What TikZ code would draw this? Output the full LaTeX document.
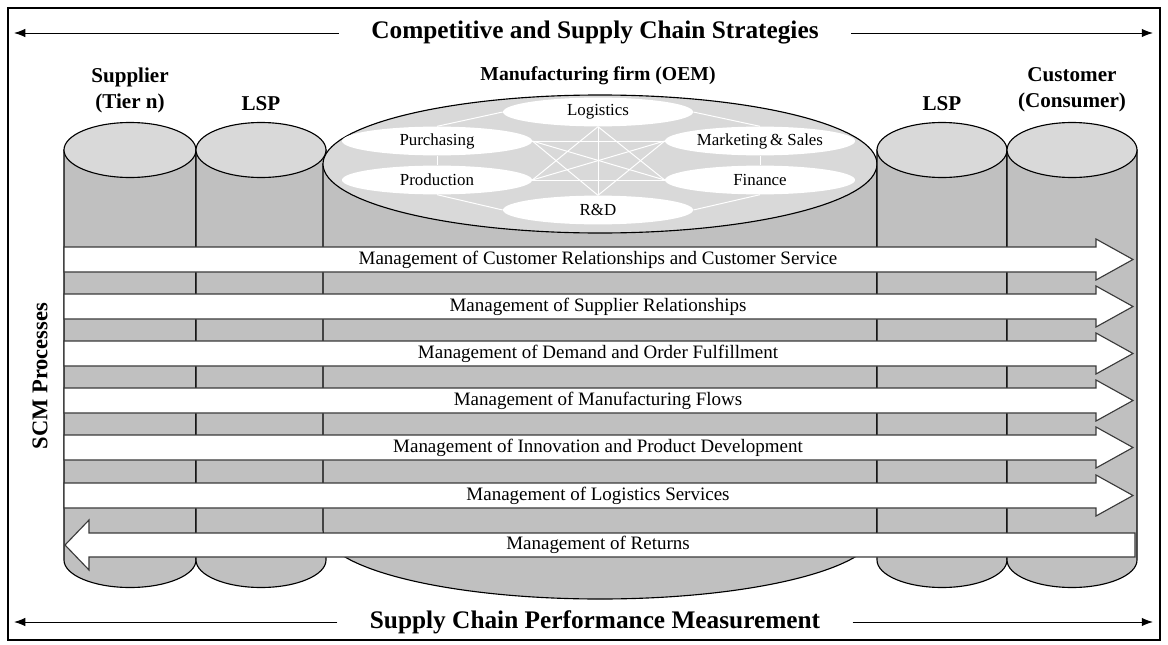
\documentclass[tikz,border=0pt]{standalone}
\usepackage{fontspec}
\setmainfont{Liberation Serif}
\usetikzlibrary{arrows.meta, shapes.geometric}

\pgfdeclarelayer{base}
\pgfdeclarelayer{links}
\pgfsetlayers{base,links,main}

\definecolor{sidegray}{HTML}{C0C0C0}
\definecolor{lidgray}{HTML}{D9D9D9}
\definecolor{rimgray}{HTML}{3A3A3A}

\tikzset{
	cylside/.style={fill=sidegray, draw=black, line width=0.8pt},
	cyllid/.style={fill=lidgray, draw=black, line width=0.8pt},
	func/.style={ellipse, fill=white, inner sep=0pt, minimum width=4.75cm,
		minimum height=0.72cm, font=\fontsize{12}{14}\selectfont},
	link/.style={white, line width=0.7pt},
	procarrow/.style={fill=white, draw=rimgray, line width=0.8pt, line join=miter},
	proclabel/.style={inner sep=0pt, font=\fontsize{13.5}{16}\selectfont},
	banner/.style={inner sep=0pt, font=\bfseries\fontsize{18}{21}\selectfont},
	party/.style={align=center, font=\bfseries\fontsize{15}{18.5}\selectfont},
}

\begin{document}
\begin{tikzpicture}[x=0.025cm, y=-0.025cm, >={Latex[length=8pt, width=6pt]}]
	\useasboundingbox (0, 0) rectangle (1168, 644);
	\draw[line width=0.8pt] (8, 8) rectangle (1160, 640);

	% cylinders: centre x / radius x / lid y / floor y / radius y
	\begin{pgfonlayer}{base}
		\foreach \cx/\rx/\ty/\by/\ry in {130/66/150/560/27.5, 261/65/150/560/27.5,
				600/277/164/530/69, 942/65/150/560/27.5, 1072/65/150/560/27.5} {
			\draw[cylside] ({\cx - \rx}, \ty) -- ({\cx - \rx}, \by)
				arc[start angle=180, end angle=0, x radius=\rx, y radius=\ry]
				-- ({\cx + \rx}, \ty) -- cycle;
			\draw[cyllid] (\cx, \ty) ellipse [x radius=\rx, y radius=\ry];
		}
	\end{pgfonlayer}

	% functions of the manufacturer
	\node[func] (log) at (598, 112) {Logistics};
	\node[func] (pur) at (437, 141) {Purchasing};
	\node[func] (mkt) at (760, 141) {Marketing\,\& Sales};
	\node[func] (prd) at (437, 180) {Production};
	\node[func] (fin) at (760, 180) {Finance};
	\node[func] (rnd) at (598, 210) {R\&D};

	\begin{pgfonlayer}{links}
		\foreach \a/\b in {log.west/pur.north, log.east/mkt.north, pur.south/prd.north,
				mkt.south/fin.north, prd.south/rnd.west, fin.south/rnd.east,
				log.south/prd.east, log.south/fin.west, log.south/rnd.north,
				pur.east/mkt.west, pur.east/fin.west, pur.east/rnd.north,
				mkt.west/prd.east, mkt.west/rnd.north, prd.east/fin.west}
			\draw[link] (\a) -- (\b);
	\end{pgfonlayer}

	% the parties
	\node[party] (sup) at (130, 90) {Supplier\\(Tier n)};
	\node[party] (lspa) at (261, 104) {LSP};
	\node[party, font=\bfseries\fontsize{14}{17}\selectfont] (oem) at (598, 76)
		{Manufacturing firm (OEM)};
	\node[party] (lspb) at (942, 104) {LSP};
	\node[party] (cus) at (1072, 90) {Customer\\(Consumer)};

	% SCM processes
	\foreach \y/\txt in {259.5/{Management of Customer Relationships and Customer Service},
			306.5/{Management of Supplier Relationships},
			353.5/{Management of Demand and Order Fulfillment},
			400.5/{Management of Manufacturing Flows},
			447.5/{Management of Innovation and Product Development},
			495.5/{Management of Logistics Services}} {
		\draw[procarrow] (64, {\y - 12.5}) -- (1096, {\y - 12.5}) -- (1096, {\y - 20.5})
			-- (1133, \y) -- (1096, {\y + 20.5}) -- (1096, {\y + 12.5})
			-- (64, {\y + 12.5}) -- cycle;
		\node[proclabel] at (598, \y) {\txt};
	}
	\draw[procarrow] (1135, 533) -- (89, 533) -- (89, 520) -- (65, 545)
		-- (89, 570) -- (89, 557) -- (1135, 557) -- cycle;
	\node[proclabel] (ret) at (598, 545) {Management of Returns};

	\node[rotate=90, font=\bfseries\fontsize{16}{19}\selectfont] (scm) at (40, 376)
		{SCM Processes};

	% strategies and measurement
	\node[banner] (strat) at (595, 33) {Competitive and Supply Chain Strategies};
	\node[banner] (perf) at (595, 622) {Supply Chain Performance Measurement};
	\coordinate (stratL) at (14, 33);
	\coordinate (stratR) at (1153, 33);
	\coordinate (perfL) at (14, 622);
	\coordinate (perfR) at (1153, 622);
	\draw[->, line width=0.7pt, shorten <=23pt] (strat) -- (stratL);
	\draw[->, line width=0.7pt, shorten <=23pt] (strat) -- (stratR);
	\draw[->, line width=0.7pt, shorten <=23pt] (perf) -- (perfL);
	\draw[->, line width=0.7pt, shorten <=23pt] (perf) -- (perfR);
\end{tikzpicture}
\end{document}
